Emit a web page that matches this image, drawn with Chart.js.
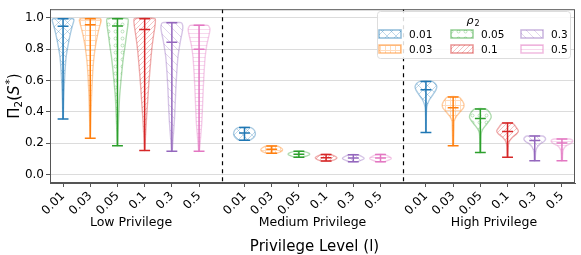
<!DOCTYPE html>
<html>
<head>
<meta charset="utf-8">
<script src="https://cdn.jsdelivr.net/npm/chart.js"></script>
<style>
html, body { margin: 0; padding: 0; background: #fff; }
#wrap { width: 581px; height: 255px; }
</style>
</head>
<body>
<div id="wrap"><canvas id="violin-chart"></canvas></div>
<script>
var groups = ["Low Privilege", "Medium Privilege", "High Privilege"];
var rhoValues = ["0.01", "0.03", "0.05", "0.1", "0.3", "0.5"];
var rhoColors = ["#1f77b4", "#ff7f0e", "#2ca02c", "#d62728", "#9467bd", "#e377c2"];
var hatches = ["x", "+", "o", "/", "\\", "-"];

// min / max / mean of Pi_2(S*) for each group (rows) and rho_2 (columns)
var mins = [
  [0.353, 0.231, 0.183, 0.153, 0.147, 0.147],
  [0.218, 0.135, 0.110, 0.085, 0.081, 0.081],
  [0.268, 0.183, 0.139, 0.110, 0.087, 0.087]
];
var maxs = [
  [0.994, 0.994, 0.994, 0.994, 0.969, 0.952],
  [0.300, 0.181, 0.147, 0.127, 0.125, 0.127],
  [0.594, 0.495, 0.418, 0.328, 0.245, 0.226]
];
var means = [
  [0.946, 0.956, 0.948, 0.925, 0.844, 0.800],
  [0.264, 0.160, 0.129, 0.106, 0.104, 0.104],
  [0.540, 0.426, 0.357, 0.274, 0.216, 0.201]
];

// violin outlines: [value, relative half width], bottom to top
var shapesLow = [
  [[0.353,0.02],[0.45,0.05],[0.55,0.1],[0.65,0.17],[0.75,0.28],[0.84,0.5],[0.9,0.68],[0.94,0.82],[0.97,0.95],[0.985,1.0],[0.994,0.92]],
  [[0.231,0.02],[0.35,0.06],[0.5,0.12],[0.62,0.2],[0.72,0.3],[0.82,0.48],[0.9,0.7],[0.95,0.88],[0.98,1.0],[0.994,0.95]],
  [[0.183,0.02],[0.3,0.07],[0.4,0.13],[0.5,0.2],[0.64,0.38],[0.75,0.55],[0.82,0.7],[0.9,0.85],[0.96,0.97],[0.994,0.95]],
  [[0.153,0.02],[0.25,0.08],[0.37,0.18],[0.47,0.28],[0.575,0.38],[0.68,0.5],[0.79,0.64],[0.88,0.8],[0.95,0.95],[0.994,0.95]],
  [[0.147,0.03],[0.22,0.1],[0.33,0.22],[0.44,0.3],[0.54,0.36],[0.65,0.45],[0.75,0.56],[0.85,0.78],[0.92,0.98],[0.95,1.0],[0.969,0.85]],
  [[0.147,0.03],[0.22,0.12],[0.33,0.25],[0.44,0.32],[0.54,0.38],[0.65,0.46],[0.75,0.56],[0.83,0.72],[0.9,0.95],[0.93,1.0],[0.952,0.82]]
];
var shapesMedium = [
  [[0.218,0.5],[0.235,0.85],[0.255,1.0],[0.275,0.95],[0.29,0.8],[0.300,0.5]],
  [[0.135,0.45],[0.145,0.85],[0.158,1.0],[0.17,0.85],[0.181,0.45]],
  [[0.110,0.35],[0.12,0.8],[0.13,1.0],[0.14,0.75],[0.147,0.35]],
  [[0.085,0.35],[0.095,0.8],[0.106,1.0],[0.117,0.8],[0.127,0.35]],
  [[0.081,0.35],[0.092,0.8],[0.103,1.0],[0.114,0.8],[0.125,0.35]],
  [[0.081,0.35],[0.092,0.8],[0.103,1.0],[0.114,0.8],[0.127,0.35]]
];
var shapesHigh = [
  [[0.268,0.02],[0.35,0.03],[0.42,0.06],[0.45,0.15],[0.48,0.35],[0.51,0.65],[0.54,0.92],[0.56,1.0],[0.58,0.85],[0.594,0.55]],
  [[0.183,0.03],[0.25,0.06],[0.3,0.08],[0.34,0.1],[0.37,0.3],[0.4,0.65],[0.425,0.95],[0.445,1.0],[0.47,0.85],[0.495,0.5]],
  [[0.139,0.03],[0.2,0.05],[0.26,0.08],[0.285,0.2],[0.31,0.45],[0.34,0.8],[0.365,1.0],[0.39,0.9],[0.418,0.5]],
  [[0.110,0.03],[0.15,0.05],[0.19,0.08],[0.215,0.2],[0.24,0.5],[0.26,0.85],[0.278,1.0],[0.3,0.8],[0.328,0.45]],
  [[0.087,0.04],[0.12,0.06],[0.15,0.1],[0.175,0.25],[0.195,0.5],[0.21,0.85],[0.225,1.0],[0.238,0.9],[0.245,0.7]],
  [[0.087,0.04],[0.12,0.06],[0.15,0.1],[0.17,0.22],[0.185,0.45],[0.2,0.85],[0.212,1.0],[0.222,0.9],[0.226,0.7]]
];
var shapes = [shapesLow, shapesMedium, shapesHigh];
var yTicks = [0, 0.2, 0.4, 0.6, 0.8, 1.0];

var groupStep = 6.67;
var halfWidth = 0.4;   // violin widths = 0.8
var capHalf = 0.2;

Chart.defaults.font.family = "'DejaVu Sans', sans-serif";
Chart.defaults.color = "#000";

var canvas = document.getElementById("violin-chart");
var mainCtx = canvas.getContext("2d");

function rgba(hex, a) {
  var n = parseInt(hex.slice(1), 16);
  return "rgba(" + (n >> 16) + "," + ((n >> 8) & 255) + "," + (n & 255) + "," + a + ")";
}

function makeHatch(kind, color) {
  var sizes = {"x": 9, "+": 5, "o": 7, "/": 5, "\\": 8, "-": 4};
  var s = sizes[kind];
  var c = document.createElement("canvas");
  c.width = s; c.height = s;
  var g = c.getContext("2d");
  g.strokeStyle = rgba(color, 0.28);
  g.lineWidth = 1;
  g.beginPath();
  if (kind === "x") {
    g.moveTo(0, 0); g.lineTo(s, s); g.moveTo(0, s); g.lineTo(s, 0);
  } else if (kind === "+") {
    g.moveTo(0.5, 0); g.lineTo(0.5, s); g.moveTo(1, 0.5); g.lineTo(s, 0.5);
  } else if (kind === "o") {
    g.arc(s / 2, s / 2, 1.5, 0, Math.PI * 2);
  } else if (kind === "/") {
    g.moveTo(0, s); g.lineTo(s, 0); g.moveTo(-1, 1); g.lineTo(1, -1); g.moveTo(s - 1, s + 1); g.lineTo(s + 1, s - 1);
  } else if (kind === "\\") {
    g.moveTo(0, 0); g.lineTo(s, s); g.moveTo(-1, s - 1); g.lineTo(1, s + 1); g.moveTo(s - 1, -1); g.lineTo(s + 1, 1);
  } else {
    g.moveTo(0, 1.5); g.lineTo(s, 1.5);
  }
  g.stroke();
  return mainCtx.createPattern(c, "repeat");
}

var patterns = rhoValues.map(function (r, j) { return makeHatch(hatches[j], rhoColors[j]); });

function pos(g, j) { return g * groupStep + j; }

var tickPositions = [];
var datasets = [];
groups.forEach(function (grp, g) {
  rhoValues.forEach(function (rho, j) {
    var p = pos(g, j);
    tickPositions.push(p);
    var outline = shapes[g][j];
    var poly = [];
    outline.forEach(function (pt) { poly.push({x: p + pt[1] * halfWidth, y: pt[0]}); });
    outline.slice().reverse().forEach(function (pt) { poly.push({x: p - pt[1] * halfWidth, y: pt[0]}); });
    poly.push(poly[0]);
    datasets.push({
      label: rho,
      data: poly,
      showLine: true,
      fill: "shape",
      tension: 0.2,
      backgroundColor: patterns[j],
      borderColor: rgba(rhoColors[j], 0.38),
      borderWidth: 1.4,
      pointRadius: 0,
      order: 2
    });
    datasets.push({
      label: rho + " stats",
      data: [
        {x: p - capHalf, y: mins[g][j]}, {x: p + capHalf, y: mins[g][j]}, {x: p, y: null},
        {x: p, y: mins[g][j]}, {x: p, y: maxs[g][j]}, {x: p, y: null},
        {x: p - capHalf, y: maxs[g][j]}, {x: p + capHalf, y: maxs[g][j]}, {x: p, y: null},
        {x: p - capHalf, y: means[g][j]}, {x: p + capHalf, y: means[g][j]}
      ],
      showLine: true,
      spanGaps: false,
      fill: false,
      borderColor: rhoColors[j],
      borderWidth: 1.5,
      pointRadius: 0,
      order: 1
    });
  });
});

var extras = {
  id: "extras",
  afterDatasetsDraw: function (chart) {
    var ctx = chart.ctx, a = chart.chartArea, xs = chart.scales.x;
    ctx.save();
    // group separators
    ctx.strokeStyle = "#000";
    ctx.lineWidth = 1.2;
    ctx.setLineDash([4, 4]);
    for (var g = 0; g < groups.length - 1; g++) {
      var xv = (pos(g, rhoValues.length - 1) + pos(g + 1, 0)) / 2;
      var px = Math.round(xs.getPixelForValue(xv)) + 0.5;
      ctx.beginPath(); ctx.moveTo(px, a.top); ctx.lineTo(px, a.bottom); ctx.stroke();
    }
    ctx.setLineDash([]);
    // frame
    ctx.strokeStyle = "#555";
    ctx.lineWidth = 1;
    ctx.strokeRect(a.left + 0.5, a.top + 0.5, a.right - a.left - 1, a.bottom - a.top - 1);

    // legend
    var lx = 377, ly = 11, lw = 193, lh = 47;
    ctx.fillStyle = "rgba(255,255,255,0.85)";
    ctx.strokeStyle = "#ddd";
    ctx.beginPath();
    ctx.roundRect(lx + 0.5, ly + 0.5, lw, lh, 3);
    ctx.fill(); ctx.stroke();
    ctx.fillStyle = "#000";
    ctx.textAlign = "center";
    ctx.textBaseline = "alphabetic";
    ctx.font = "italic 11px 'DejaVu Sans'";
    ctx.fillText("\u03c1", 470, 24);
    ctx.font = "8px 'DejaVu Sans'";
    ctx.fillText("2", 477, 26);
    var colX = [379, 451, 521];
    var rowY = [34, 49];
    ctx.font = "10.5px 'DejaVu Sans'";
    ctx.textAlign = "left";
    ctx.textBaseline = "middle";
    rhoValues.forEach(function (rho, j) {
      var cx = colX[Math.floor(j / 2)], cy = rowY[j % 2];
      ctx.fillStyle = "#fff";
      ctx.fillRect(cx, cy - 4, 22, 8);
      ctx.fillStyle = patterns[j];
      ctx.fillRect(cx, cy - 4, 22, 8);
      ctx.strokeStyle = rgba(rhoColors[j], 0.5);
      ctx.lineWidth = 1.5;
      ctx.strokeRect(cx, cy - 4, 22, 8);
      ctx.fillStyle = "#000";
      ctx.fillText(rho, cx + 30, cy + 1);
    });

    // group labels and x title
    ctx.textAlign = "center";
    ctx.textBaseline = "middle";
    ctx.font = "12.5px 'DejaVu Sans'";
    groups.forEach(function (grp, gi) {
      var cxv = (pos(gi, 0) + pos(gi, rhoValues.length - 1)) / 2;
      ctx.fillText(grp, xs.getPixelForValue(cxv), 223);
    });
    ctx.font = "15px 'DejaVu Sans'";
    ctx.fillText("Privilege Level (l)", (a.left + a.right) / 2 + 2, 247);

    // y title: Pi_2(S^*)
    ctx.translate(14, (a.top + a.bottom) / 2);
    ctx.rotate(-Math.PI / 2);
    ctx.textAlign = "left";
    ctx.textBaseline = "alphabetic";
    var parts = [
      {t: "\u03a0", f: "15px 'DejaVu Sans'", dy: 0},
      {t: "2", f: "10.5px 'DejaVu Sans'", dy: 3},
      {t: "(", f: "15px 'DejaVu Sans'", dy: 0},
      {t: "S", f: "italic 15px 'DejaVu Sans'", dy: 0},
      {t: "*", f: "10.5px 'DejaVu Sans'", dy: -6},
      {t: ")", f: "15px 'DejaVu Sans'", dy: 0}
    ];
    var total = 0;
    parts.forEach(function (pt) { ctx.font = pt.f; pt.w = ctx.measureText(pt.t).width + (pt.t === "S" ? 1 : 0); total += pt.w; });
    var tx = -total / 2;
    parts.forEach(function (pt) { ctx.font = pt.f; ctx.fillText(pt.t, tx, 5 + pt.dy); tx += pt.w; });
    ctx.restore();
  }
};

new Chart(canvas, {
  type: "scatter",
  data: { datasets: datasets },
  options: {
    responsive: true,
    maintainAspectRatio: false,
    animation: false,
    layout: { padding: { top: 5, right: 6, left: 0, bottom: 0 } },
    plugins: { legend: { display: false }, tooltip: { enabled: false } },
    scales: {
      x: {
        type: "linear",
        min: -0.48,
        max: 2 * groupStep + 5.48,
        afterBuildTicks: function (s) { s.ticks = tickPositions.map(function (v) { return {value: v}; }); },
        afterFit: function (s) { s.height = 72; },
        ticks: {
          autoSkip: false,
          minRotation: 45,
          maxRotation: 45,
          padding: 2,
          font: { size: 12 },
          callback: function (v, i) { return rhoValues[i % rhoValues.length]; }
        },
        grid: { drawOnChartArea: false, tickLength: 4, tickColor: "#555" },
        border: { color: "#555" }
      },
      y: {
        min: -0.055,
        max: 1.055,
        afterBuildTicks: function (s) { s.ticks = yTicks.map(function (v) { return {value: v}; }); },
        afterFit: function (s) { s.width = 50; },
        ticks: {
          padding: 2,
          font: { size: 12 },
          callback: function (v) { return v.toFixed(1); }
        },
        grid: { color: "#dcdcdc", lineWidth: 1, tickLength: 4, tickColor: "#555" },
        border: { color: "#555" }
      }
    }
  },
  plugins: [extras]
});
</script>
</body>
</html>
